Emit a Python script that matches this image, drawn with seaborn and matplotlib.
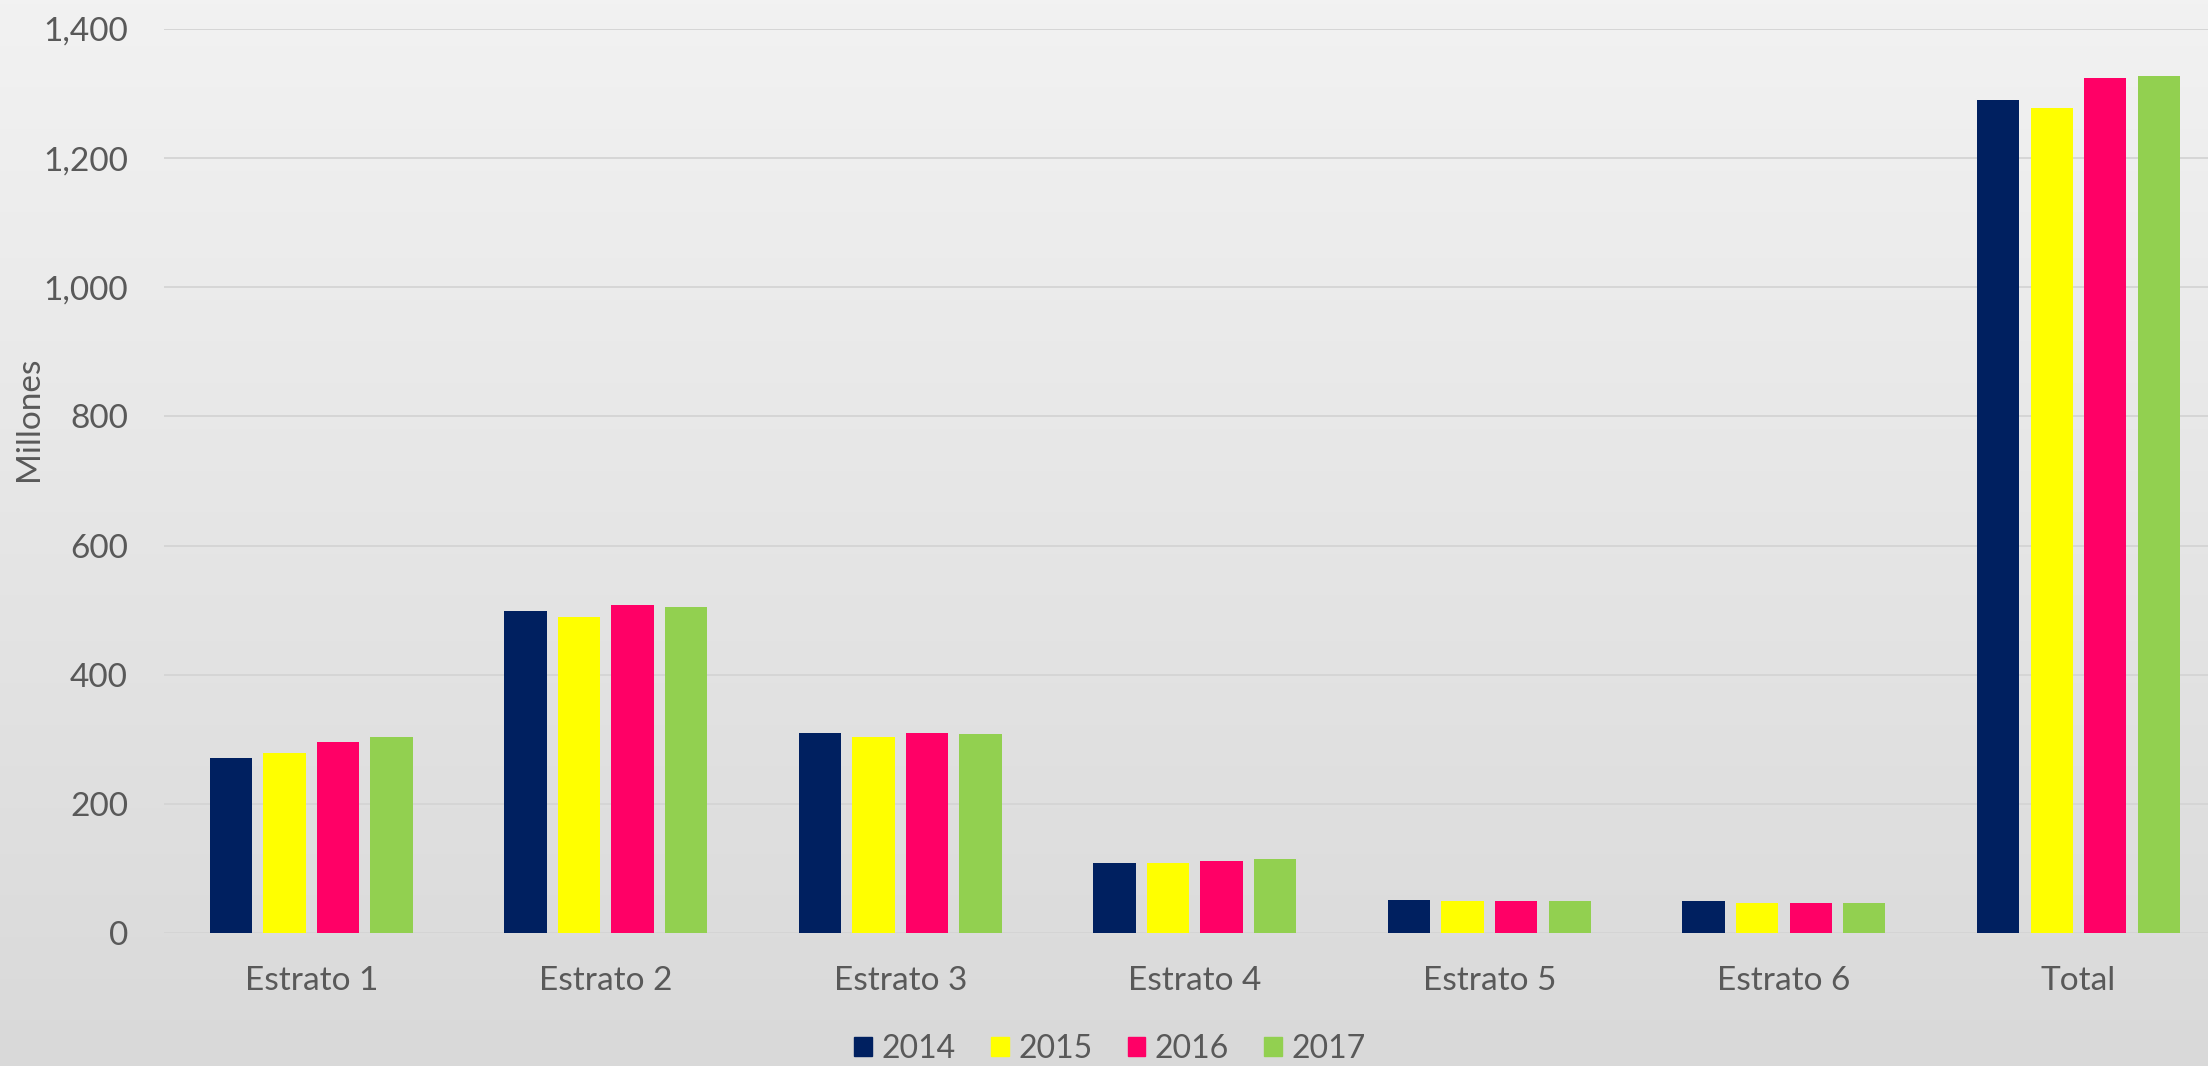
import matplotlib
matplotlib.use("Agg")
import matplotlib.pyplot as plt
import numpy as np
import pandas as pd
import seaborn as sns

# values in millions
categorias = ["Estrato 1", "Estrato 2", "Estrato 3", "Estrato 4", "Estrato 5", "Estrato 6", "Total"]
anios = ["2014", "2015", "2016", "2017"]
v2014 = [271, 499, 310, 109, 51, 49, 1290]
v2015 = [279, 489, 304, 109, 49, 47, 1278]
v2016 = [296, 508, 310, 112, 50, 47, 1324]
v2017 = [303, 505, 308, 114, 50, 47, 1327]
colores = ["#002060", "#FFFF00", "#FF0066", "#92D050"]

GRIS = "#595959"

rows = []
for anio, vals in zip(anios, [v2014, v2015, v2016, v2017]):
    for cat, v in zip(categorias, vals):
        rows.append({"categoria": cat, "anio": anio, "valor": v})
df = pd.DataFrame(rows)

sns.set_style("white")
plt.rcParams["font.family"] = ["Lato", "DejaVu Sans"]

fig = plt.figure(figsize=(22.08, 10.66), dpi=100)

# gradient background
bg = fig.add_axes([0, 0, 1, 1], zorder=0)
grad = np.linspace(0, 1, 256).reshape(-1, 1)
cmap = matplotlib.colors.LinearSegmentedColormap.from_list("bg", ["#f2f2f2", "#d9d9d9"])
bg.imshow(grad, aspect="auto", cmap=cmap, extent=[0, 1, 0, 1], origin="upper")
bg.axis("off")

ax = fig.add_axes([164 / 2208, 1 - 933 / 1066, 1 - 164 / 2208, (933 - 29) / 1066], zorder=1)
ax.patch.set_alpha(0)

sns.barplot(data=df, x="categoria", y="valor", hue="anio", palette=colores,
            order=categorias, hue_order=anios, width=0.727, gap=0.21,
            saturation=1, linewidth=0, edgecolor="none",
            legend=False, ax=ax, zorder=3)

ax.set_ylim(0, 1400)
ax.set_xlim(-0.5, 6.44)
ax.set_yticks(range(0, 1401, 200))
ax.set_yticklabels([f"{t:,}" for t in range(0, 1401, 200)])
ax.yaxis.grid(True, color="#d4d4d4", linewidth=1.3, zorder=0)
ax.set_axisbelow(True)
for s in ax.spines.values():
    s.set_visible(False)
ax.tick_params(axis="both", length=0, labelsize=24, labelcolor=GRIS)
ax.tick_params(axis="y", pad=26)
ax.tick_params(axis="x", pad=24)
ax.set_xlabel("")
ax.set_ylabel("Millones", fontsize=24, color=GRIS)
ax.yaxis.set_label_coords(-(164 - 44) / (2208 - 164), (933 - 419) / (933 - 29))

handles = [matplotlib.patches.Patch(color=c) for c in colores]
fig.legend(handles, anios, loc="center", bbox_to_anchor=(1110 / 2208, 1 - 1049 / 1066),
           ncol=4, frameon=False, fontsize=23, labelcolor=GRIS,
           handlelength=0.56, handleheight=0.56, handletextpad=0.3, columnspacing=1.1)

fig.savefig("out.png", dpi=100)
